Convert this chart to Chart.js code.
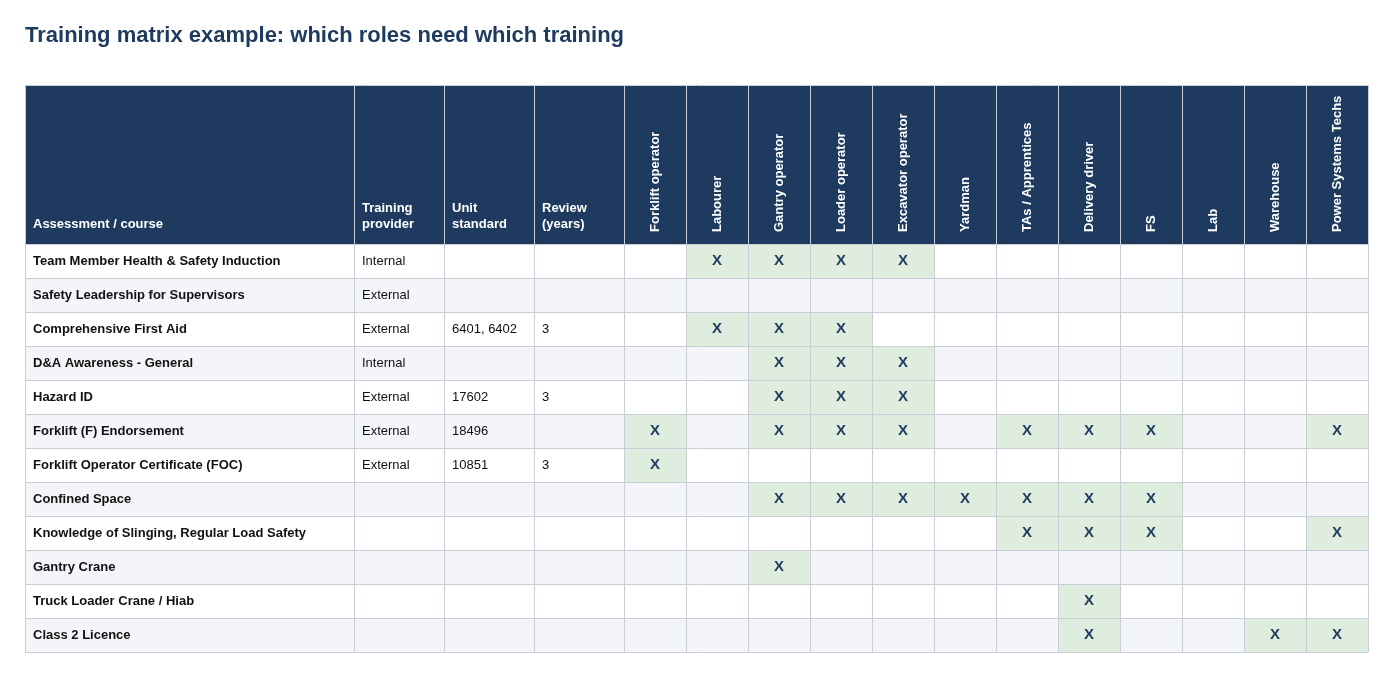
<!DOCTYPE html>
<html>
<head>
<meta charset="utf-8">
<script src="https://cdn.jsdelivr.net/npm/chart.js@4"></script>
<style>
body { margin: 0; background: #fff; }
#wrap { position: relative; width: 1392px; height: 676px; }
#title { position: absolute; left: 25px; top: 22px; font: bold 22px "Liberation Sans", Arial, sans-serif; color: #1e3a5f; }
</style>
</head>
<body>
<div id="wrap">
  <div id="title">Training matrix example: which roles need which training</div>
  <canvas id="myChart" width="1392" height="676"></canvas>
</div>
<script>
var courses = ['Team Member Health & Safety Induction', 'Safety Leadership for Supervisors', 'Comprehensive First Aid',
	'D&A Awareness - General', 'Hazard ID', 'Forklift (F) Endorsement', 'Forklift Operator Certificate (FOC)',
	'Confined Space', 'Knowledge of Slinging, Regular Load Safety', 'Gantry Crane', 'Truck Loader Crane / Hiab', 'Class 2 Licence'];
var providers = ['Internal', 'External', 'External', 'Internal', 'External', 'External', 'External', '', '', '', '', ''];
var unitStandards = ['', '', '6401, 6402', '', '17602', '18496', '10851', '', '', '', '', ''];
var reviewYears = ['', '', '3', '', '3', '', '3', '', '', '', '', ''];
var roles = ['Forklift operator', 'Labourer', 'Gantry operator', 'Loader operator', 'Excavator operator', 'Yardman',
	'TAs / Apprentices', 'Delivery driver', 'FS', 'Lab', 'Warehouse', 'Power Systems Techs'];
// role indexes required per course
var required = [[1, 2, 3, 4], [], [1, 2, 3], [2, 3, 4], [2, 3, 4], [0, 2, 3, 4, 6, 7, 8, 11], [0],
	[2, 3, 4, 5, 6, 7, 8], [6, 7, 8, 11], [2], [7], [7, 10, 11]];

// layout: column widths in x units, header height in row units
var textCols = [329, 90, 90, 90];
var roleW = 62;
var headerRows = 159 / 34;
var colEdges = [0];
textCols.forEach(function(w) { colEdges.push(colEdges[colEdges.length - 1] + w); });
roles.forEach(function() { colEdges.push(colEdges[colEdges.length - 1] + roleW); });
var totalW = colEdges[colEdges.length - 1];

var points = [];
required.forEach(function(list, r) {
	list.forEach(function(c) {
		var i = textCols.length + c;
		points.push({ x: (colEdges[i] + colEdges[i + 1]) / 2, y: r + 0.5, col: i, row: r });
	});
});

var FONT = '"Liberation Sans", Arial, sans-serif';
var matrixPlugin = {
	id: 'matrix',
	afterDatasetsDraw: function(chart) {
		var ctx = chart.ctx, xs = chart.scales.x, ys = chart.scales.y;
		var X = function(v) { return xs.getPixelForValue(v); };
		var Y = function(v) { return ys.getPixelForValue(v); };
		ctx.save();
		// header
		ctx.fillStyle = '#1e3a5f';
		ctx.fillRect(X(0), Y(-headerRows), X(totalW) - X(0), Y(0) - Y(-headerRows));
		// rows
		for (var r = 0; r < courses.length; r++) {
			ctx.fillStyle = r % 2 ? '#f3f5f9' : '#ffffff';
			ctx.fillRect(X(0), Y(r), X(totalW) - X(0), Y(r + 1) - Y(r));
		}
		// green cells
		ctx.fillStyle = '#deedde';
		points.forEach(function(p) {
			ctx.fillRect(X(colEdges[p.col]), Y(p.row), X(colEdges[p.col + 1]) - X(colEdges[p.col]), Y(p.row + 1) - Y(p.row));
		});
		// grid
		ctx.strokeStyle = '#c9cdd8';
		ctx.lineWidth = 1;
		ctx.beginPath();
		colEdges.forEach(function(e) {
			var px = Math.round(X(e)) + 0.5;
			ctx.moveTo(px, Y(-headerRows)); ctx.lineTo(px, Y(courses.length));
		});
		for (var r2 = 0; r2 <= courses.length; r2++) {
			var py = Math.round(Y(r2)) + 0.5;
			ctx.moveTo(X(0), py); ctx.lineTo(X(totalW), py);
		}
		ctx.moveTo(X(0), Math.round(Y(-headerRows)) + 0.5); ctx.lineTo(X(totalW), Math.round(Y(-headerRows)) + 0.5);
		ctx.stroke();
		// header text
		ctx.fillStyle = '#ffffff';
		ctx.font = 'bold 13px ' + FONT;
		ctx.textBaseline = 'middle';
		ctx.textAlign = 'left';
		var hy = Y(0) - 20;
		var heads = [['Assessment / course'], ['Training', 'provider'], ['Unit', 'standard'], ['Review', '(years)']];
		heads.forEach(function(lines, i) {
			lines.forEach(function(t, k) {
				ctx.fillText(t, X(colEdges[i]) + 8, hy - (lines.length - 1 - k) * 16);
			});
		});
		roles.forEach(function(t, c) {
			var i = textCols.length + c;
			ctx.save();
			ctx.translate((X(colEdges[i]) + X(colEdges[i + 1])) / 2, Y(0) - 12);
			ctx.rotate(-Math.PI / 2);
			ctx.fillText(t, 0, 0);
			ctx.restore();
		});
		// body text
		ctx.fillStyle = '#111111';
		courses.forEach(function(t, r) {
			var cy = Y(r + 0.5);
			ctx.font = 'bold 13px ' + FONT;
			ctx.fillText(t, X(0) + 8, cy);
			ctx.font = '13px ' + FONT;
			ctx.fillText(providers[r], X(colEdges[1]) + 8, cy);
			ctx.fillText(unitStandards[r], X(colEdges[2]) + 8, cy);
			ctx.fillText(reviewYears[r], X(colEdges[3]) + 8, cy);
		});
		// X marks at the dataset points
		ctx.fillStyle = '#1e3a5f';
		ctx.font = 'bold 15px ' + FONT;
		ctx.textAlign = 'center';
		chart.getDatasetMeta(0).data.forEach(function(el) {
			ctx.fillText('X', el.x, el.y);
		});
		ctx.restore();
	}
};

new Chart(document.getElementById('myChart').getContext('2d'), {
	type: 'scatter',
	data: { datasets: [{ data: points, pointRadius: 0, pointHoverRadius: 0 }] },
	options: {
		responsive: false,
		animation: false,
		layout: { padding: { left: 25, right: 24, top: 85, bottom: 24 } },
		plugins: { legend: { display: false }, tooltip: { enabled: false } },
		scales: {
			x: { type: 'linear', min: 0, max: totalW, display: false },
			y: { type: 'linear', min: -headerRows, max: courses.length, reverse: true, display: false }
		}
	},
	plugins: [matrixPlugin]
});
</script>
</body>
</html>
